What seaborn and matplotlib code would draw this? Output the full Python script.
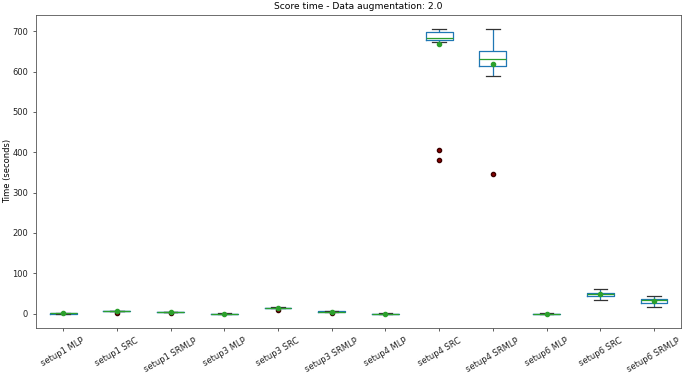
import pandas as pd
import numpy as np
import matplotlib
matplotlib.use('Agg')
import matplotlib.pyplot as plt
import seaborn as sns

# Score times (seconds) per setup
setups = ['setup1 MLP', 'setup1 SRC', 'setup1 SRMLP', 'setup3 MLP', 'setup3 SRC',
          'setup3 SRMLP', 'setup4 MLP', 'setup4 SRC', 'setup4 SRMLP', 'setup6 MLP',
          'setup6 SRC', 'setup6 SRMLP']

setup1_mlp = [0.4, 0.5, 0.5, 0.6, 0.6, 0.6, 0.7, 0.7, 0.8, 0.9]
setup1_src = [1.5, 5.8, 6.0, 6.1, 6.2, 6.3, 6.4, 6.5, 6.6, 6.8]
setup1_srmlp = [1.2, 3.8, 4.0, 4.1, 4.2, 4.3, 4.4, 4.5, 4.6, 4.8]
setup3_mlp = [0.2, 0.3, 0.3, 0.3, 0.4, 0.4, 0.4, 0.5, 0.5, 0.6]
setup3_src = [8.5, 13.0, 13.5, 14.0, 14.3, 14.6, 15.0, 15.4, 15.8, 16.5]
setup3_srmlp = [2.0, 5.0, 5.2, 5.3, 5.4, 5.5, 5.6, 5.7, 5.8, 6.0]
setup4_mlp = [0.2, 0.3, 0.3, 0.4, 0.4, 0.4, 0.5, 0.5, 0.5, 0.6]
setup4_src = [380, 405, 672, 673, 674, 675, 676, 677, 677, 678, 679, 680, 681, 682, 683,
              685, 687, 689, 691, 693, 695, 696, 697, 698, 699, 700, 701, 702, 703, 705]
setup4_srmlp = [347, 589, 594, 600, 610, 615, 618, 621, 625, 630, 634, 636, 639, 643,
                650, 652, 655, 658, 662, 705]
setup6_mlp = [0.2, 0.3, 0.3, 0.3, 0.4, 0.4, 0.4, 0.5, 0.5, 0.6]
setup6_src = [35, 41, 43, 46, 47, 49, 50, 52, 55, 62]
setup6_srmlp = [17, 24, 27, 29, 32, 34, 36, 38, 40, 43]

values = [setup1_mlp, setup1_src, setup1_srmlp, setup3_mlp, setup3_src, setup3_srmlp,
          setup4_mlp, setup4_src, setup4_srmlp, setup6_mlp, setup6_src, setup6_srmlp]

# Long-form table for seaborn
df = pd.DataFrame({
    'setup': [s for s, v in zip(setups, values) for _ in v],
    'time': [t for v in values for t in v],
})

plt.rcParams['font.size'] = 6.0
plt.rcParams['axes.linewidth'] = 0.6
plt.rcParams['xtick.major.size'] = 2.5
plt.rcParams['ytick.major.size'] = 2.5
plt.rcParams['xtick.major.width'] = 0.6
plt.rcParams['ytick.major.width'] = 0.6
plt.rcParams['xtick.color'] = '#444444'
plt.rcParams['ytick.color'] = '#444444'
plt.rcParams['xtick.labelcolor'] = '#222222'
plt.rcParams['ytick.labelcolor'] = '#222222'

fig, ax = plt.subplots(figsize=(6.85, 3.73), dpi=100)
fig.subplots_adjust(left=0.053, right=0.994, top=0.960, bottom=0.121)

sns.boxplot(data=df, x='setup', y='time', order=setups, width=0.5, showmeans=True,
            fill=False, color='#1f77b4', linewidth=0.9, ax=ax,
            boxprops=dict(color='#1f77b4', linewidth=0.9),
            whiskerprops=dict(color='#1f77b4', linewidth=0.9),
            capprops=dict(color='#333333', linewidth=0.9),
            medianprops=dict(color='#2ca02c', linewidth=0.9),
            meanprops=dict(marker='o', markerfacecolor='#2ca02c', markeredgecolor='#2ca02c',
                           markersize=3),
            flierprops=dict(marker='o', markerfacecolor='#8b0000', markeredgecolor='#3a0000',
                            markersize=3))

for sp in ax.spines.values():
    sp.set_color('#555555')

ax.set_title('Score time - Data augmentation: 2.0', fontsize=6.6, pad=4)
ax.set_xlabel('')
ax.set_ylabel('Time (seconds)')
ax.yaxis.set_label_coords(-0.038, 0.5)
ax.tick_params(axis='x', rotation=30)
ax.set_xlim(-0.5, len(setups) - 0.5)

plt.savefig('out.png')
